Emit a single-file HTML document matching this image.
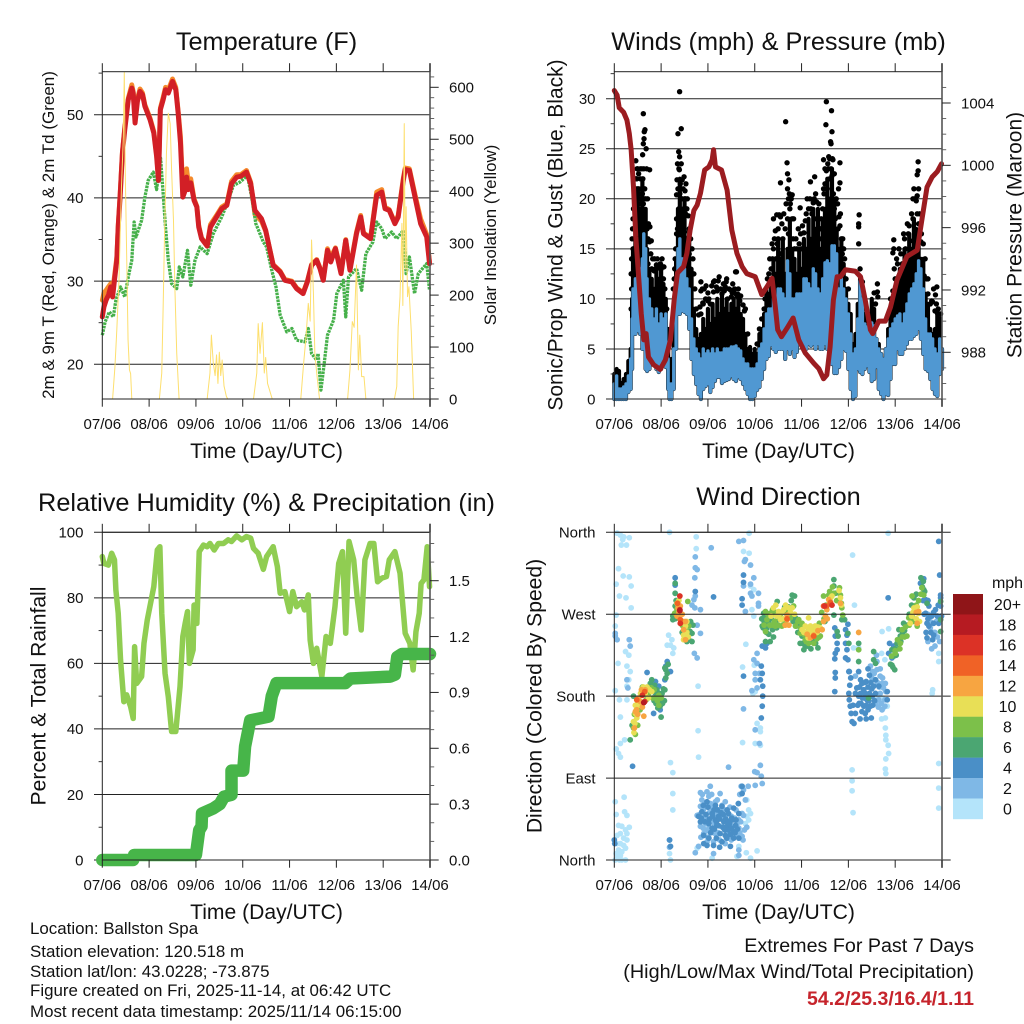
<!DOCTYPE html>
<html lang="en">
<head>
<meta charset="utf-8">
<title>Ballston Spa station meteogram</title>
<style>
html,body{margin:0;padding:0;background:#fff;width:1024px;height:1024px;overflow:hidden}
svg{display:block;font-family:"Liberation Sans",Arial,sans-serif;fill:#000}
text{fill:#111}
</style>
</head>
<body>
<svg id="fig" xmlns="http://www.w3.org/2000/svg" width="1024" height="1024" viewBox="0 0 1024 1024">
<rect x="0" y="0" width="1024" height="1024" fill="#fff"/>
<defs><clipPath id="tempClip"><rect x="102.3" y="71.7" width="327.7" height="327.3"/></clipPath></defs>

<text x="266.5" y="50" font-size="25.3" text-anchor="middle">Temperature (F)</text>
<text x="778.5" y="50" font-size="25.3" text-anchor="middle">Winds (mph) &amp; Pressure (mb)</text>
<text x="266.5" y="511" font-size="25.3" text-anchor="middle">Relative Humidity (%) &amp; Precipitation (in)</text>
<text x="778.5" y="505" font-size="25.3" text-anchor="middle">Wind Direction</text>

<text x="266.5" y="458" font-size="21.1" text-anchor="middle">Time (Day/UTC)</text>
<text x="778.5" y="458" font-size="21.1" text-anchor="middle">Time (Day/UTC)</text>
<text x="266.5" y="919" font-size="21.1" text-anchor="middle">Time (Day/UTC)</text>
<text x="778.5" y="919" font-size="21.1" text-anchor="middle">Time (Day/UTC)</text>

<text transform="translate(54,235) rotate(-90)" font-size="17" text-anchor="middle">2m &amp; 9m T (Red, Orange) &amp; 2m Td (Green)</text>
<text transform="translate(496,235) rotate(-90)" font-size="16.9" text-anchor="middle">Solar Insolation (Yellow)</text>
<text transform="translate(562.5,235) rotate(-90)" font-size="21" text-anchor="middle">Sonic/Prop Wind &amp; Gust (Blue, Black)</text>
<text transform="translate(1021.5,235) rotate(-90)" font-size="21" text-anchor="middle">Station Pressure (Maroon)</text>
<text transform="translate(45.5,696) rotate(-90)" font-size="21.1" text-anchor="middle">Percent &amp; Total Rainfall</text>
<text transform="translate(541.5,696) rotate(-90)" font-size="21.1" text-anchor="middle">Direction (Colored By Speed)</text>

<text x="30" y="934" font-size="16.9">Location: Ballston Spa</text>
<text x="30" y="957" font-size="16.9">Station elevation: 120.518 m</text>
<text x="30" y="977" font-size="16.9">Station lat/lon: 43.0228; -73.875</text>
<text x="30" y="996" font-size="16.9">Figure created on Fri, 2025-11-14, at 06:42 UTC</text>
<text x="30" y="1017" font-size="16.9">Most recent data timestamp: 2025/11/14 06:15:00</text>
<text x="974" y="952" font-size="19.7" text-anchor="end">Extremes For Past 7 Days</text>
<text x="974" y="978" font-size="19.8" text-anchor="end">(High/Low/Max Wind/Total Precipitation)</text>
<text x="974" y="1005" font-size="19.5" font-weight="bold" text-anchor="end" style="fill:#c6242c">54.2/25.3/16.4/1.11</text>
<text x="1007.5" y="588" font-size="16" text-anchor="middle">mph</text>

<g id="temperature-panel"></g>
<g id="winds-panel"></g>
<g id="humidity-panel"></g>
<g id="direction-panel"></g>
<g id="colorbar"></g>
</svg>

<script>
const dayLabels=["07/06","08/06","09/06","10/06","11/06","12/06","13/06","14/06"];
const tempTicks=[20,30,40,50];
const tempMinor=[25,35,45,55];
const solarTicks=[0,100,200,300,400,500,600];
const solarMinor=[20,40,60,80,120,140,160,180,220,240,260,280,320,340,360,380,420,440,460,480,520,540,560,580,620];
const windTicks=[0,5,10,15,20,25,30];
const windMinor=[2.5,7.5,12.5,17.5,22.5,27.5,32.5];
const pressTicks=[988,992,996,1000,1004];
const pressMinor=[985,986,987,989,990,991,993,994,995,997,998,999,1001,1002,1003,1005];
const rhTicks=[0,20,40,60,80,100];
const rhMinor=[10,30,50,70,90];
const rainTicks=["0.0","0.3","0.6","0.9","1.2","1.5"];
const rainMinor=[0.1,0.2,0.4,0.5,0.7,0.8,1.0,1.1,1.3,1.4,1.6,1.7];
const dirTicks=[0,90,180,270,360];
const dirLabels=["North","East","South","West","North"];
const speedLabels=["20+","18","16","14","12","10","8","6","4","2","0"];
const speedColors=["#8f1518","#b61b22","#dc3226","#f06226","#f7a541","#e8df56","#7cc04a","#4ba672","#4a8fc7","#7fb8e6","#b4e4fa"];

const tempT=[0,.035,.08,.13,.18,.22,.26,.31,.34,.38,.43,.48,.555,.63,.66,.7,.75,.805,.86,.91,1.02,1.1,1.16,1.2,1.24,1.3,1.35,1.41,1.5,1.57,1.62,1.67,1.72,1.77,1.8,1.84,1.89,1.96,2.02,2.06,2.12,2.24,2.31,2.44,2.55,2.66,2.76,2.87,2.96,3.08,3.17,3.26,3.4,3.49,3.58,3.65,3.8,3.9,4.05,4.15,4.29,4.38,4.47,4.58,4.65,4.72,4.81,4.88,4.98,5.1,5.2,5.29,5.43,5.52,5.58,5.73,5.86,5.97,6.04,6.13,6.25,6.32,6.43,6.47,6.56,6.68,6.8,6.93,6.99];
const tempV=[25.7,26.9,27.7,28.3,29.3,28.1,30.1,32.5,36.5,40.1,45.4,48.2,51.8,53.2,52.6,49,51.6,52.8,52.4,51,49.4,47.8,45,42.1,50.6,51.8,53,52.6,54,53,50.2,46.6,40.1,40.9,42.5,41,41.8,39.7,38.9,36.5,35.1,34.2,36.5,37.7,38.7,39.1,41.7,42.5,42.6,43.1,41.7,38.5,37.5,36.1,33.7,31.9,31.1,30.1,29.9,29.1,28.5,29.9,31.9,32.5,31.5,30.1,33.7,32.3,33.9,30.9,34.9,31.3,35.7,37.7,35.7,35.1,40.3,40.7,38.7,38.5,36.9,37.7,42.1,43.4,43.3,40.1,36.9,35.3,32.1];
const orangeV=[27.7,28.6,28.9,29.3,29.7,28.8,30.6,32.9,36.8,40.4,45.6,48.5,52,53.6,52.8,49.3,51.9,53.1,52.6,51.2,49.6,48,45.2,42.3,50.8,52.1,53.3,53,54.3,53.3,50.5,47.4,41,42.6,43.5,41.8,42.3,39.9,39,36.7,35.2,34.3,36.8,37.9,38.9,39.3,42,42.8,42.8,43.3,41.9,38,37.2,36,33.8,32,31.2,30.2,30,29.2,28.6,30,32,32.6,31.6,30.2,33.9,32.8,34,31.2,35,31.5,35.9,37.9,35.8,35.2,40.7,41,38.9,38.6,37,37.9,42.4,43.6,43.5,40.4,37.5,35.6,32.3];
const dewT=[0,.06,.15,.235,.29,.39,.48,.555,.63,.68,.72,.84,.91,.98,1.09,1.16,1.245,1.3,1.35,1.41,1.48,1.59,1.645,1.72,1.82,1.89,1.98,2.09,2.24,2.37,2.55,2.69,2.8,2.94,3.1,3.19,3.28,3.44,3.51,3.62,3.71,3.8,3.94,4.05,4.15,4.33,4.4,4.47,4.58,4.61,4.67,4.74,4.81,4.94,5.01,5.15,5.2,5.26,5.43,5.54,5.63,5.78,5.86,5.97,6.04,6.18,6.29,6.43,6.49,6.56,6.67,6.75,6.93,6.99];
const dewV=[23.5,25.1,26.3,25.7,27.7,29.3,28.1,30.5,32.5,37.1,35.3,37.3,40.1,42.1,43.1,41,44.8,40.5,36.5,32.5,29.7,29.1,31.7,30.5,33.7,29.5,32.5,34.1,33.3,35.7,37.7,39.7,41.5,41.9,42.7,40.1,36.9,34.7,34.1,31.3,29.3,25.9,23.9,24.3,22.9,22.7,24.3,21.3,20.5,21.3,16.9,20.1,23.5,25.3,28.5,30.1,25.7,30.5,31.5,28.9,33.3,34.7,37.1,36.3,35.1,35.9,35.1,36.1,30.9,32.9,28.5,30.9,32.1,28.9];
const solarT=[.22,.27,.31,.356,.39,.41,.45,.47,.49,.52,.55,.58,.605,.63,1.22,1.27,1.3,1.33,1.37,1.41,1.45,1.48,1.52,1.55,1.59,1.64,2.24,2.3,2.33,2.37,2.41,2.44,2.47,2.5,2.53,2.56,2.6,2.65,2.68,3.23,3.3,3.33,3.37,3.42,3.46,3.49,3.53,3.63,4.24,4.3,4.35,4.4,4.44,4.47,4.51,4.54,4.58,4.64,5.24,5.29,5.34,5.38,5.43,5.47,5.5,5.54,5.59,5.63,6.24,6.29,6.32,6.36,6.4,6.42,6.45,6.47,6.49,6.52,6.55,6.6,6.65];
const solarV=[0,62,133,229,345,410,505,630,441,280,114,56,49,0,0,50,178,319,473,550,530,441,345,216,88,0,0,50,123,70,45,85,30,90,45,75,25,5,0,0,50,145,88,147,50,80,30,0,0,68,118,184,150,306,203,88,50,0,0,56,149,138,258,56,123,43,43,0,0,24,139,197,338,180,530,250,370,197,216,130,0];

const windT=[0,.05,.1,.15,.2,.25,.3,.35,.38,.4,
.45,.5,.55,.6,.63,.67,.7,.75,.8,.85,
.9,.95,1,1.05,1.1,1.15,1.18,1.22,1.27,1.32,
1.36,1.4,1.45,1.5,1.55,1.6,1.65,1.7,1.75,1.8,
1.85,1.9,1.95,2,2.05,2.1,2.15,2.2,2.25,2.3,
2.35,2.4,2.45,2.5,2.55,2.6,2.65,2.7,2.75,2.8,
2.85,2.9,2.95,3,3.05,3.1,3.15,3.2,3.25,3.3,
3.35,3.4,3.45,3.5,3.55,3.6,3.65,3.7,3.75,3.8,
3.85,3.9,3.95,4,4.05,4.1,4.15,4.2,4.25,4.3,
4.35,4.4,4.45,4.5,4.55,4.6,4.65,4.7,4.75,4.8,
4.85,4.9,4.95,5,5.05,5.1,5.15,5.2,5.25,5.3,
5.35,5.4,5.45,5.5,5.55,5.6,5.65,5.7,5.75,5.8,
5.85,5.9,5.95,6,6.05,6.1,6.15,6.2,6.25,6.3,
6.35,6.4,6.45,6.5,6.55,6.6,6.65,6.7,6.75,6.8,
6.85,6.9,6.95,7];
const windLo=[0,0,0,0,0,0,.7,1,3,6.5,
6.5,6.8,6.5,5,5,3,2.8,3,3.5,3.5,
3,2.7,3,3.5,3.2,1,0,0,1,5,
8.5,8.5,8.8,8.7,8.5,7,4,2.5,1.5,.5,
0,1,1.3,1.5,.7,1.2,1.8,2.2,2.2,1.6,
1.8,1.9,2,2.3,2,1.8,2.2,2,1.5,1,
.5,0,0,.3,.9,1.2,2,3,4,4.3,
5.4,5,4.7,5,5,5,4,5,4.5,5,
4.2,4.7,5.6,5.5,5.5,5,5.5,5.3,5.5,5,
5.5,5,5,5.5,5,4.5,3.5,2.6,2.6,3.2,
4,5,4.8,3,1,0,.3,3,2.7,2.5,
3,3.3,2.7,1.8,2,3.2,1,.5,0,.5,
.4,2,3.5,3.5,5,4.5,4.5,5,5.5,6,
6,6.3,6.5,7,6,4.5,3,2.8,2,1,
.5,.3,2.5,3];
const windHi=[1.5,2.3,1,1,1.2,1.5,2.3,4,8,11,
12,13,13,14,16.5,15,12,10,9,8,
9,7.5,8.5,8,8.5,4,1.5,1.5,5,10,
15,16,14,13,12,11,8,6,5,4.5,
4,5,4.5,4.8,4.5,5,4.5,5,4.6,4.6,
5,5,5,5.2,5.2,5.3,5,4.8,4,3.5,
3.5,3,3,3,3.5,5,5.5,7,8.5,9,
9,10,10,11,11,10.5,10,13.8,12.5,10,
10,10.5,10.5,10.5,12,12,11.5,11,13,12.5,
11,10.5,12,13.6,13.8,13.5,15.3,15.3,14.5,11,
12,11,10,8.5,6.5,4.5,5,8,11.8,10,
7.5,7.2,7.8,7.6,7.3,6,5,4.5,4,5,
6,7,7.5,8,8.3,8.5,7.5,8.5,9.5,10.5,
11,11.5,12.5,13.8,13,11,8,6.5,6.5,6,
5,4.5,6,5];
const gustCoreHi=[2.5,3,2.8,1.6,2,2.5,3.8,5,10,15,
20,21,19,22,17,19,15,13,12,11,
13,12,13.5,11.5,10,7,3,4,9,14,
19,22,19,20,16,17,13,9,7,6,
6.5,8,7,9,7.5,9.5,8,10,8.5,10.5,
9,10,8.5,9.5,10,9,10.5,8.5,8,6.5,
5,5.2,4.5,5,4.5,6.5,7,8.5,11,10.5,
12,14,12.5,16,14,16,12.5,15,18,15,
14,12.5,15,13,16,15,18,16,19,17,
19,15,18,19,22,20,23,20,17,15,
16,13.5,11,9.5,8.5,5.5,6.5,9.5,12,10.5,
8.5,8,8.5,10,9,6,5.5,4.5,4,5,
7,8.5,10,11,12,13,12.5,15,14,16.5,
15,18,17,16,14,14,10.5,9.5,7,6.5,
7,8.5,8,5];
const gustDots=[1.395,30.7,.62,28.5,.655,26.9,.64,26.7,.635,26,.62,25.5,.68,25,.605,24.4,.46,23.8,.485,23,.555,23,.755,22.9,
1.36,26.5,1.43,27,1.375,24.7,1.395,24.2,1.35,23.5,1.39,22.9,1.34,21.9,1.45,21.9,1.33,20.4,1.52,20,
3.66,27.7,3.69,23.6,3.7,22.5,3.55,21.6,3.73,21.9,3.74,20.5,3.8,20.4,3.76,19.5,3.97,19.1,
4.53,29.7,4.64,28.8,4.52,27.4,4.65,26.7,4.62,25.7,4.63,25.5,4.82,23.6,4.82,21.6,4.79,21,4.47,23.9,4.58,24.2,4.67,23.9,4.28,22.2,4.19,21.7,
5.23,18.4,5.22,17.5,5.22,17.2,5.22,15.5,
6.49,23.7,6.49,22.8,6.47,22.4,6.5,21,5.97,15.9,5.97,15,5.95,14.6,6.89,11.2,6.86,10.4,
1.85,11.7,1.85,10.8,2.24,12.2,2.39,11.7,2.37,11.2,2.12,11.7,2.59,12.7,2.61,12.7,2.02,10,1.89,9.6,2.52,10.6,2.6,10.5,
5.62,11.5,5.62,10.7,5.63,10.2,
.4,18,.42,17,.43,16,.38,11,.45,21,.48,22,.5,20,.52,21,.55,19.5,.58,21,.6,20.5,.62,19.5,.66,17,.7,17,.72,16,.75,15.7,.78,14.5,.72,13.5,.8,13,.85,12.8,.9,13.4,.95,13.1,1,13,1.05,12,1.08,11,1.12,9,
1.28,12,1.3,14,1.33,16.5,1.35,17,1.38,19,1.4,20.5,1.42,18.7,1.45,20,1.48,19,1.5,20,1.52,18.5,1.55,19,1.45,16.8,1.5,16.7,1.55,16,1.6,14.5,1.62,13,1.65,12.5,
1.85,8.5,1.9,9.5,1.95,10,2,9.8,2.05,9.5,2.12,10.7,2.2,10.8,2.3,10.5,2.35,10.8,2.42,10,2.5,10.2,2.55,10.7,2.62,10.3,2.68,9.8,2.78,8.8,2.72,8,2.85,6.5,
3.1,7,3.2,9,3.25,10.5,3.3,12.5,3.35,13,3.38,14,3.42,16,3.47,18.4,3.5,17,3.55,18.2,3.4,15,3.45,14,3.5,16,3.55,14.5,3.6,16,3.65,17,3.7,18,3.72,16.5,3.75,19,3.8,18,3.82,16,3.85,15,3.9,15,3.95,15.5,4,15,4.05,16.6,4.1,18.5,4.15,19,4.18,20,4.22,18.5,4.25,19.6,4.28,18,4.32,19.7,4.35,18,4.4,17,4.42,16,4.45,19,4.48,20.5,4.5,21.5,4.53,22.8,4.55,21,4.58,23,4.6,22,4.63,20,4.65,22.3,4.68,20.5,4.7,19,4.72,18,4.78,17,4.8,18.2,4.82,17.3,4.85,16,4.87,14.5,4.9,15,4.95,12,5,11,
5.25,13,5.3,11.7,5.55,10.6,5.58,9.5,5.9,10,5.95,10.8,6,12,6.03,14,6.1,12.5,6.15,13.5,6.2,16,6.22,15,6.28,16.5,6.32,15.8,6.38,18,6.42,20,6.45,19.8,6.47,18.5,6.5,17.5,6.55,15.7,6.58,13.5,6.62,12.3,6.67,12,6.7,10.5,6.75,9.5,6.8,9.7,6.85,8.8,6.9,8.6,6.95,8,
.36,9,.37,11,.36,12.5,.37,14,.38,16,.39,17,.4,15,.41,19,.43,20,.44,18,.46,22,.47,20.5,.49,21,.5,23,.52,22.5,.54,20.5,.56,22,.57,20,.59,23,.61,22,.63,23,.65,21,.67,20,.69,23,.71,20,.73,17.5,.76,17.2,.79,15.8,.82,14,.86,14,.88,13,.92,14,.98,13.5,1.02,14,1.06,13.2,
1.26,11,1.29,13,1.31,15,1.33,18,1.36,21,1.38,23,1.41,21.5,1.43,23.5,1.47,21,1.49,22.2,1.51,20.8,1.53,21.5,1.56,20,1.58,18.3,1.6,17,1.63,16,1.66,15,1.68,14,1.7,12.5,1.72,11,1.75,9,
1.8,8.4,1.83,9.2,1.88,11,1.92,11,1.96,11.3,2,10.6,2.08,11.3,2.14,11.8,2.18,11.2,2.22,11.8,2.27,11,2.33,11.5,2.4,12,2.45,11,2.48,10.9,2.53,11.5,2.57,11,2.65,11,2.7,10.3,2.75,9.4,2.8,9,
3.05,5.5,3.15,8,3.22,10,3.27,12,3.32,14,3.37,15.5,3.4,18,3.44,16.8,3.48,15.5,3.52,18.4,3.58,17.5,3.62,18.5,3.67,19.5,3.7,21,3.72,20,3.78,20,3.83,18,3.88,16,3.93,17,3.98,16.5,4.02,17.3,4.08,17.8,4.12,20,4.2,19,4.27,20,4.3,20.5,4.37,19.5,4.42,18,4.47,21,4.5,23,4.56,23.5,4.6,24,4.63,23,4.66,24,4.7,22.5,4.74,20,4.77,19.5,4.83,18.5,4.88,16,4.92,14,
5.98,13,6.05,13.5,6.08,15,6.12,14.5,6.18,16.5,6.26,17.5,6.3,17.3,6.35,18.5,6.38,20,6.4,21,6.43,20,6.47,20.3,6.52,18.5,6.56,16.5,6.6,15.5,6.64,14,6.7,12,6.78,9.8,6.82,11,6.88,9.5,6.92,9,6.97,8.5];
const pressT=[0,.06,.105,.2,.27,.32,.36,.41,.46,.52,.575,.63,.68,.73,.84,.98,1.09,1.2,1.28,1.35,1.48,1.55,1.62,1.7,1.77,1.84,1.93,2.02,2.09,2.12,2.16,2.29,2.41,2.51,2.62,2.73,2.83,3.01,3.15,3.26,3.37,3.44,3.49,3.57,3.69,3.82,3.94,4.08,4.26,4.37,4.47,4.54,4.61,4.68,4.76,4.83,4.94,5.15,5.26,5.36,5.47,5.52,5.65,5.79,5.9,6.04,6.25,6.47,6.57,6.68,6.79,6.9,6.99];
const pressV=[1004.8,1004.5,1003.7,1003.4,1002.9,1002.05,1001,998.6,995.4,992.85,990.5,988.8,989.2,987.7,987.2,986.9,987.5,988.8,991.4,993.1,993.5,994.35,995.85,997.1,997.45,998.2,999.7,999.9,1000.35,1001,999.9,999.7,998.4,995.85,994.35,993.5,993.05,992.85,991.7,992.2,992.75,990.9,989.45,989,989.55,990.2,988.8,987.95,987.3,986.95,986.3,986.55,988.35,991.35,992.85,992.85,993.3,993.2,992.85,991.35,989.45,989.2,990,990,990.9,992.65,994.15,994.55,996.5,998.6,999.25,999.6,1000.1];

const rhT=[0,.035,.13,.2,.26,.29,.34,.39,.46,.52,.605,.66,.69,.735,.84,.89,.96,1.03,1.1,1.175,1.23,1.27,1.34,1.41,1.48,1.57,1.66,1.72,1.77,1.82,1.86,1.94,1.96,2.02,2.07,2.16,2.24,2.3,2.39,2.48,2.59,2.69,2.76,2.87,2.98,3.08,3.17,3.23,3.33,3.44,3.51,3.65,3.74,3.8,3.9,4,4.07,4.15,4.26,4.32,4.4,4.44,4.51,4.58,4.69,4.78,4.87,4.97,5.05,5.13,5.2,5.27,5.37,5.45,5.53,5.61,5.72,5.8,5.88,5.97,6.07,6.13,6.25,6.36,6.47,6.57,6.64,6.7,6.77,6.81,6.87,6.94,6.99];
const rhV=[92.6,90.5,90,93.6,91.6,82.4,75.3,61,48.3,50.4,46.8,43.2,65.1,53.9,56,66.1,73.2,78.3,83.4,94.6,95.6,75.3,57,49.8,39.2,39.2,52.9,68.2,72.2,75.8,60,64.1,77.8,72.2,94.1,96.1,95.6,96.6,94.6,96.6,96.6,97.7,97.2,98.9,97.7,98.7,98.2,95.1,93.6,88.7,92.6,95.6,89.5,81.4,81.9,75.8,81.9,77.3,78.8,76.3,80.9,67.1,60,64.6,56,68.2,66.1,77.3,90.5,94.1,69.2,97.2,91.6,79.3,70.2,91.6,96.6,96.6,84.9,86,86.5,91.6,94.1,87.5,69.2,66.1,58,69.7,75.3,84.4,85.5,95.6,83.4];
const rainT=[0,.66,.68,1.94,2,2.07,2.12,2.13,2.37,2.51,2.6,2.76,2.76,3.01,3.05,3.16,3.55,3.62,3.72,4.4,5.19,5.3,6.15,6.25,6.3,6.4,7];
const rainV=[0,0,.027,.027,.027,.16,.18,.25,.277,.3,.34,.35,.48,.48,.61,.75,.77,.88,.95,.95,.95,.975,.985,.995,1.09,1.106,1.106];

const dirSpeed0=[.06,359,.13,357,.2,355,.18,352,.32,354,.15,346,.26,346,.09,320,.19,312,.32,311,.04,303,.36,301,.11,290,.25,288,.36,277,.04,269,.02,257,.24,229,.31,225,.27,213,.34,207,.08,216,.31,198,.27,191,.02,186,.11,176,.27,176,.13,157,.22,132,.13,128,.04,122,.09,117,.13,113,
.09,38,.16,37,.24,33,.27,29,.06,27,.13,29,.2,24,.27,22,.06,18,.13,18,.2,16,.24,13,.09,11,.16,9,.04,7,.13,5,.06,2,.16,0,.24,0,.02,0,.11,0,.21,69,.02,64,.22,53,.27,49,.04,50,.32,36,
1.18,360,1.16,247,1.23,242,1.2,236,1.13,236,1.27,233,1.25,227,1.75,355,1.75,342,1.79,191,1.79,142,1.8,113,1.2,107,1.25,96,1.25,73,1.25,55,1.2,0,1.18,7,
2.88,359,2.76,339,2.88,337,2.98,297,2.91,301,2.94,275,2.8,273,2.98,268,2.81,237,2.74,212,2.99,214,3.01,198,3.01,185,2.96,183,3.05,150,3.12,145,3.12,141,2.74,129,3.01,128,3.12,126,5.85,359,5.09,335,5.13,280,5.22,233,5.11,233,5.72,251,5.86,254,5.71,227,5.78,220,5.79,156,5.71,155,5.79,145,5.8,137,5.8,132,5.85,126,5.86,117,5.8,111,5.79,100,5.8,95,5.08,99,5.08,87,5.08,76,5.1,52,6.93,106,6.93,79,6.93,57,6.79,183,6.93,218,6.93,227,6.8,187,
2.83,66,2.87,55,2.83,48,2.8,40,2.91,51,2.87,44,3.05,10,2.82,8,2.66,15,1.77,13,2.09,2,2.62,4,2.91,2,5.61,180,5.72,178,5.83,169,5.75,167];
const dirSpeed2=[.02,246,.06,242,.02,249,.32,242,.34,235,.27,198,.29,189,
1.73,333,1.73,321,1.77,319,1.72,310,1.7,286,1.73,290,1.66,280,1.72,277,1.84,275,1.77,258,1.84,249,1.71,227,1.77,222,1.18,22,1.18,14,2.44,102,2.07,343,2.66,350,2.76,351,2.8,330,2.91,324,2.78,328,2.91,303,2.98,310,2.76,301,2.91,293,2.94,290,3.08,293,3.08,282,3.08,279,2.8,273,3.05,227,2.98,220,3.05,216,3.1,205,3.01,205,3.01,198,2.94,186,3.05,189,2.76,166,3.01,143,3.1,128,3.12,104,3,97,3.05,96,3.14,92,3.01,82,3.16,84,2.71,81,2.86,81,2.76,77,2.68,72,2.8,66,2.76,49,
2.05,81,1.84,74,1.98,75,2.26,73,2.02,70,1.87,66,2.16,64,2.37,64,1.84,59,2.09,57,1.77,49,1.94,48,2.23,55,1.87,44,2.09,44,2.37,48,2.73,51,2.66,44,1.84,37,2.02,35,2.26,37,2.66,35,2.83,36,1.91,29,2.16,29,2.44,24,2.62,26,2.12,20,2.37,18,2.73,26,2.66,11,2.66,5,1.73,8,1.8,15,2.12,7,1.98,20,1.9,55,2,62,2.15,50,2.3,60,2.5,48,2.6,55,2.55,36,
1.82,50,1.88,72,1.93,62,1.95,40,1.97,32,2.03,52,2.05,62,2.08,72,2.12,30,2.14,40,2.18,52,2.2,66,2.22,30,2.28,47,2.33,35,2.35,55,2.4,44,2.42,30,2.47,58,2.5,38,2.53,28,2.57,46,2.62,40,2.68,30,2.7,42,2.75,22,2.78,33,1.9,35,1.85,25,2,25,2.25,22,2.5,22,
5.61,209,5.68,202,5.72,194,5.75,189,5.68,183,5.65,176,5.79,194,5.15,202,5.78,169,5.47,213,5.61,218,6.75,262,6.85,250,6.7,240,6.85,235,
5.55,205,5.62,195,5.66,190,5.7,172,5.72,165,5.64,168,5.58,172,5.5,200,5.73,200,5.8,185,5.78,176,5.68,210,5.6,225,5.52,207,
6.7,270,6.75,255,6.8,250,6.88,262,6.9,245,6.78,232,6.95,240];
const dirSpeed4=[1.98,64,2.16,60,2.3,59,2.41,55,1.87,53,2.09,51,2.23,48,2.44,51,2.55,57,2.16,44,2.34,42,2.51,46,2.66,51,1.84,42,2.02,40,2.19,38,2.41,37,2.59,38,2.44,33,2.55,31,2.26,29,2.09,35,1.91,27,2.37,27,2.66,24,2.48,15,1.98,16,1.91,18,2.3,20,2.12,16,2.73,73,2.73,81,
1.8,48,1.86,46,1.9,60,1.94,42,1.96,50,2,58,2.03,45,2.06,30,2.1,48,2.13,55,2.14,34,2.18,42,2.2,55,2.22,38,2.25,45,2.28,52,2.32,36,2.33,50,2.36,33,2.38,45,2.4,24,2.43,42,2.46,40,2.48,28,2.5,35,2.53,44,2.55,24,2.58,30,2.6,44,2.63,34,2.65,62,2.02,24,2.18,24,2.25,14,
5.01,183,5.02,176,5.04,169,5.06,161,5.08,152,5.15,161,5.18,189,5.22,180,5.23,172,5.29,194,5.33,187,5.33,169,5.36,161,5.4,176,5.45,183,5.47,169,5.49,156,5.54,191,5.58,198,5.45,203,5.38,196,5.26,198,5.22,207,5.02,207,5.65,191,5.83,185,5.83,176,5.29,163,5.42,165,5.26,183,5.36,183,5.51,180,5.15,183,5.58,183,
5.03,192,5.05,200,5.1,170,5.12,150,5.2,170,5.24,190,5.27,172,5.3,178,5.34,178,5.35,195,5.38,170,5.42,190,5.44,175,5.48,195,5.5,188,5.52,170,5.56,175,5.42,210,5.25,155,5.38,155,
4.71,255,4.72,246,4.76,238,4.76,231,4.72,227,4.71,221,4.72,206,4.72,200,4.71,185,4.94,253,4.97,247,4.94,238,4.97,231,4.94,222,4.99,220,4.99,259,5.01,207,
2.12,289,2.76,313,2.76,305,2.73,287,2.73,280,1.73,295,3.14,213,3.16,205,3.12,198,3.17,191,3.17,180,3.16,169,3.14,156,2.76,202,.39,103,0,22,.01,18,6.93,350,6.95,313,6.97,291,5.85,288,
6.65,286,6.72,279,6.65,271,6.75,268,6.86,275,6.97,288,6.97,279,6.68,260,6.82,260,6.72,257,6.82,247,6.68,244,6.8,242,6.93,260,6.99,268,6.61,309,6.54,304,5.88,238,5.86,227,5.97,235,5.93,222,3.23,233,3.16,235,3.26,238,1.18,22,1.2,15,
6.6,285,6.62,270,6.7,265,6.7,285,6.78,268,6.82,272,6.9,268,6.92,280,6.76,250,6.66,250,
.7,206,.88,196,.84,161,.88,183,.98,165,.95,191,1.13,218,1.1,213,1.08,198,1.2,207,1.3,310,1.3,302];
const dirSpeed6=[.41,180,.38,148,.34,132,.77,194,.8,198,.91,187,1.02,183,1.08,187,.95,176,.98,169,.89,172,1,157,1.1,209,1.08,211,1.3,304,1.3,293,1.25,268,1.25,264,1.3,279,1.59,260,1.66,249,1.59,242,1.66,240,1.62,251,1.68,258,
.78,186,.84,185,.85,175,.9,180,.93,167,.96,183,.99,175,1.03,172,1.05,188,1.07,175,1.1,200,1.13,205,1.15,215,.72,180,.86,192,
3.19,271,3.16,257,3.23,240,3.33,240,3.48,284,3.8,291,3.85,290,3.3,260,3.9,260,3.94,257,4.01,246,4.08,235,4.05,231,4.35,233,3.87,266,4.69,308,4.69,301,4.72,293,4.69,269,4.86,264,4.92,264,4.76,251,4.78,246,5.01,238,4.99,249,5.22,238,5.22,218,5.54,229,5.54,220,5.58,216,5.43,178,5.97,224,5.93,214,5.99,209,5.93,231,6.04,238,6.11,246,6.08,253,6.18,260,6.6,306,6.61,297,6.68,282,6.97,264,6.97,251,6.97,284,
3.2,262,3.25,250,3.38,253,3.45,262,3.6,272,3.75,270,4.1,245,4.25,240,
3.15,265,3.18,255,3.22,268,3.26,255,3.3,248,3.35,265,3.4,245,3.47,255,3.56,265,3.64,278,3.72,278,3.78,285,3.82,262,3.88,257,3.92,250,3.97,238,4.02,238,4.12,235,4.2,232,4.3,238,4.38,245,4.5,262,
5.9,215,5.95,212,6,232,6.02,225,6.07,232,6.12,240,6.16,250,6.2,252,6.25,258,6.3,270,6.35,280,6.4,288,6.45,292,6.55,310,6.58,300,6.63,295,
1.32,285,1.3,265,1.45,250,1.55,240,1.6,248,1.63,262];
const dirSpeed8=[.41,145,.45,138,1.57,284,.79,189,.73,183,.95,181,.95,170,1.29,271,1.34,275,3.23,273,3.26,264,3.37,258,3.44,257,3.23,251,3.69,277,3.83,279,3.94,264,3.97,249,4.08,242,4.15,238,4.26,238,4.4,246,4.47,290,4.69,293,4.81,299,4.83,291,4.86,277,4.88,269,5.22,231,6,227,6.15,253,6.11,238,6.25,246,6.36,268,6.36,290,6.57,299,6.61,291,6.29,266,6.47,257,1.59,257,1.55,251,3.48,266,3.33,271,3.58,257,3.76,266,4.01,260,4.58,291,3.4,270,3.5,258,4,251,4.15,252,4.3,248,
.43,160,.5,148,.55,165,.6,190,.68,176,.72,188,.82,178,.85,187,.88,178,.92,175,1,178,
3.2,258,3.28,270,3.32,258,3.38,275,3.42,262,3.46,272,3.55,270,3.6,258,3.65,262,3.7,272,3.78,270,3.87,257,3.92,262,3.98,255,4.05,248,4.1,240,4.2,245,4.33,243,4.38,260,4.43,272,4.48,265,4.52,280,4.6,295,4.66,300,4.75,285,4.85,282,
5.92,224,6,230,6.05,242,6.1,232,6.15,245,6.2,245,6.22,256,6.3,258,6.35,262,6.4,262,6.45,280,6.5,285,6.55,292,
1.38,270,1.45,258,1.5,248,1.56,246];
const dirSpeed10=[.45,161,.48,156,.41,152,.56,183,.66,183,.75,187,.8,185,1.34,282,1.41,264,1.52,257,1.48,247,1.48,242,1.55,262,3.4,277,3.51,273,3.55,264,3.73,277,3.8,277,4.15,266,4.08,257,4.01,253,4.19,246,4.29,257,4.4,255,4.65,290,4.83,288,6.4,277,6.32,260,6.43,273,6.5,271,3.51,269,4.19,257,4.26,247,.42,140,.45,170,4.12,250,4.25,252,3.6,265,
.44,150,.47,165,.5,172,.53,170,.58,182,.62,190,.7,190,.73,178,
1.38,285,1.44,262,1.5,260,1.55,250,1.58,245,
3.35,268,3.45,280,3.47,268,3.58,272,3.62,275,3.66,280,3.76,272,3.85,270,4.05,250,4.1,256,4.14,244,4.18,252,4.22,248,4.27,256,4.33,250,4.35,256,4.62,288,4.8,296,4.85,280,6.35,268,6.38,272,6.45,265,6.47,278,6.52,262];
const dirSpeed12=[.48,165,.43,145,.63,158,.45,163,.56,174,.66,187,1.36,277,1.41,279,1.34,268,1.52,262,1.48,253,1.52,242,3.69,264,3.73,258,3.69,269,4.26,247,4.19,244,4.44,253,4.51,268,4.54,275,5.22,250,6.5,273,6.47,260,4.83,282,4.58,286,
.5,160,.52,178,.6,168,.58,187,1.38,272,1.45,270,1.48,262,3.65,258,4.12,248,4.35,252,4.47,262,4.55,265,4.6,282,6.45,272];
const dirSpeed14=[.48,176,.65,185,1.41,264,1.35,282,3.69,265,4.26,246,4.47,279,4.54,279,4.62,283];
const dirSpeed16=[.65,174,.6,181,1.4,290,1.4,275,1.41,260,4.49,279,4.65,280];
const dirSpeed18=[.63,173,1.4,274];
</script>
<script>
const SVGNS='http://www.w3.org/2000/svg';
function mk(parent,tag,attrs,txt){
  const el=document.createElementNS(SVGNS,tag);
  for(const k in attrs)el.setAttribute(k,attrs[k]);
  if(txt!==undefined)el.textContent=txt;
  parent.appendChild(el);
  return el;
}
const panels={
  temperature:{x0:102.3,x1:430,y0:71.7,y1:399},
  winds:{x0:614.3,x1:942,y0:71.7,y1:399},
  humidity:{x0:102.3,x1:430,y0:532.3,y1:860},
  direction:{x0:614.3,x1:942,y0:532.3,y1:860}
};
function xScale(p,t){return p.x0+(p.x1-p.x0)*t/7;}
function linear(dom0,px0,dom1,px1){return v=>px0+(v-dom0)*(px1-px0)/(dom1-dom0);}
const yTemp=linear(20,364.3,50,114.7);
const ySolar=linear(0,399,600,87.3);
const yWind=linear(0,399,30,98.7);
const yPress=linear(988,352.3,1004,103);
const yRh=linear(0,860,100,532.3);
const yRain=linear(0,860,1.5,580.7);
const yDir=linear(0,860,360,532.3);

const LINE='#222';
function drawHGrid(g,p,vals,yf,x2){
  for(const v of vals){
    const el=mk(g,'line',{x1:p.x0-8.3,x2:x2,y1:yf(v),y2:yf(v),stroke:LINE,'stroke-width':1});
    
    
  }
}
function drawXAxis(g,p){
  dayLabels.forEach((lab,i)=>{
    const x=xScale(p,i);
    const top=mk(g,'line',{x1:x,x2:x,y1:p.y0-8.5,y2:p.y0,stroke:LINE,'stroke-width':1});
    
    
    const bot=mk(g,'line',{x1:x,x2:x,y1:p.y1,y2:p.y1+7.7,stroke:LINE,'stroke-width':1});
    
    
    const t=mk(g,'text',{x:x,y:p.y1+30,'font-size':15,'text-anchor':'middle'},lab);
    
    
  });
}
function drawFrame(g,p,rightStrong){
  const el=mk(g,'rect',{x:p.x0,y:p.y0,width:p.x1-p.x0,height:p.y1-p.y0,fill:'none',stroke:LINE,'stroke-width':1});
  
  
  if(rightStrong){
    const r=mk(g,'line',{x1:p.x1,x2:p.x1,y1:p.y0-8.5,y2:p.y1+7.7,stroke:'#555','stroke-width':1.6});
    
    
  }
}
function drawLeftTicks(g,p,vals,labels,minor,yf){
  vals.forEach((v,i)=>{
    const t=mk(g,'text',{x:p.x0-18.8,y:yf(v)+5.3,'font-size':15,'text-anchor':'end'},labels[i]);
    
    
  });
  for(const v of minor){
    const el=mk(g,'line',{x1:p.x0-3.7,x2:p.x0,y1:yf(v),y2:yf(v),stroke:LINE,'stroke-width':.9});
    
    
  }
}
function drawRightTicks(g,p,vals,labels,minor,yf){
  vals.forEach((v,i)=>{
    const y=yf(v);
    const el=mk(g,'line',{x1:p.x1,x2:p.x1+8.7,y1:y,y2:y,stroke:LINE,'stroke-width':1});
    
    
    const t=mk(g,'text',{x:p.x1+19,y:y+5.3,'font-size':15},labels[i]);
    
    
  });
  for(const v of minor){
    const el=mk(g,'line',{x1:p.x1,x2:p.x1+4.2,y1:yf(v),y2:yf(v),stroke:'#555','stroke-width':.9});
    
    
  }
}
function pathOf(p,ts,vs,yf){
  let d='';
  for(let i=0;i<ts.length;i++){d+=(i?'L':'M')+xScale(p,ts[i]).toFixed(2)+' '+yf(vs[i]).toFixed(2);}
  return d;
}

/* Temperature panel */
(function(){
  const p=panels.temperature,g=document.getElementById('temperature-panel');
  drawHGrid(g,p,tempTicks,yTemp,p.x1);
  const orange=mk(g,'path',{d:pathOf(p,tempT,orangeV,yTemp),fill:'none',stroke:'#f58a2c','stroke-width':4.8,'stroke-linejoin':'round','stroke-linecap':'round'});
  
  
  const dew=mk(g,'path',{d:pathOf(p,dewT,dewV,yTemp),fill:'none',stroke:'#46b04a','stroke-width':3.3,'stroke-dasharray':'2.6 .9','stroke-linejoin':'round'});
  
  
  const red=mk(g,'path',{d:pathOf(p,tempT,tempV,yTemp),fill:'none',stroke:'#d21f26','stroke-width':5,'stroke-linejoin':'round','stroke-linecap':'round'});
  
  
  const solarG=mk(g,'g',{'clip-path':'url(#tempClip)'});
  const solar=mk(solarG,'path',{d:pathOf(p,solarT,solarV,ySolar),fill:'none',stroke:'#fddf6e','stroke-width':1,'stroke-linejoin':'round'});
  
  
  drawFrame(g,p,true);
  drawXAxis(g,p);
  drawLeftTicks(g,p,tempTicks,tempTicks,tempMinor,yTemp);
  drawRightTicks(g,p,solarTicks,solarTicks,solarMinor,ySolar);
})();

/* Winds panel */
(function(){
  const p=panels.winds,g=document.getElementById('winds-panel');
  drawHGrid(g,p,windTicks,yWind,p.x1);
  for(let i=0;i<windT.length;i++){
    const x=xScale(p,windT[i]);
    const el=mk(g,'line',{x1:x,x2:x,y1:yWind(windLo[i]),y2:yWind(gustCoreHi[i]),stroke:'#000','stroke-width':4.2,'stroke-linecap':'round'});
    
    
  }
  for(let i=0;i<gustDots.length;i+=2){
    const el=mk(g,'circle',{cx:xScale(p,gustDots[i]),cy:yWind(gustDots[i+1]),r:2.7,fill:'#000'});
    
    
  }
  for(let i=0;i<windT.length;i++){
    const x=xScale(p,windT[i]);
    const el=mk(g,'line',{x1:x,x2:x,y1:yWind(windLo[i]),y2:yWind(windHi[i]),stroke:'#5098d2','stroke-width':3.4,'stroke-linecap':'round'});
    
    
  }
  const press=mk(g,'path',{d:pathOf(p,pressT,pressV,yPress),fill:'none',stroke:'#9b1c20','stroke-width':5,'stroke-linejoin':'round','stroke-linecap':'round'});
  
  
  drawFrame(g,p,true);
  drawXAxis(g,p);
  drawLeftTicks(g,p,windTicks,windTicks,windMinor,yWind);
  drawRightTicks(g,p,pressTicks,pressTicks,pressMinor,yPress);
})();

/* Humidity panel */
(function(){
  const p=panels.humidity,g=document.getElementById('humidity-panel');
  drawHGrid(g,p,rhTicks,yRh,p.x1);
  const rh=mk(g,'path',{d:pathOf(p,rhT,rhV,yRh),fill:'none',stroke:'#90cd52','stroke-width':5.5,'stroke-linejoin':'round','stroke-linecap':'round'});
  
  
  const rain=mk(g,'path',{d:pathOf(p,rainT,rainV,yRain),fill:'none',stroke:'#47b549','stroke-width':12.5,'stroke-linejoin':'round','stroke-linecap':'round'});
  
  
  drawFrame(g,p,true);
  drawXAxis(g,p);
  drawLeftTicks(g,p,rhTicks,rhTicks,rhMinor,yRh);
  drawRightTicks(g,p,rainTicks.map(Number),rainTicks,rainMinor,yRain);
})();

/* Wind direction panel */
(function(){
  const p=panels.direction,g=document.getElementById('direction-panel');
  const bins=[dirSpeed0,dirSpeed2,dirSpeed4,dirSpeed6,dirSpeed8,dirSpeed10,dirSpeed12,dirSpeed14,dirSpeed16,dirSpeed18];
  bins.forEach((pts,b)=>{
    const color=speedColors[10-b];
    for(let i=0;i<pts.length;i+=2){
      const el=mk(g,'circle',{cx:xScale(p,pts[i]),cy:yDir(pts[i+1]),r:2.9,fill:color});
      
      
    }
  });
  drawHGrid(g,p,dirTicks,yDir,p.x1+8.7);
  drawFrame(g,p,true);
  drawXAxis(g,p);
  drawLeftTicks(g,p,dirTicks,dirLabels,[],yDir);

  const cb=document.getElementById('colorbar');
  const cbTop=594,cbH=225/11;
  speedColors.forEach((c,i)=>{
    const r=mk(cb,'rect',{x:953,y:cbTop+i*cbH,width:30,height:cbH+.2,fill:c});
    
    
    const t=mk(cb,'text',{x:1007.5,y:cbTop+i*cbH+cbH/2+5.6,'font-size':16,'text-anchor':'middle'},speedLabels[i]);
    
    
  });
})();
</script>
</body>
</html>
